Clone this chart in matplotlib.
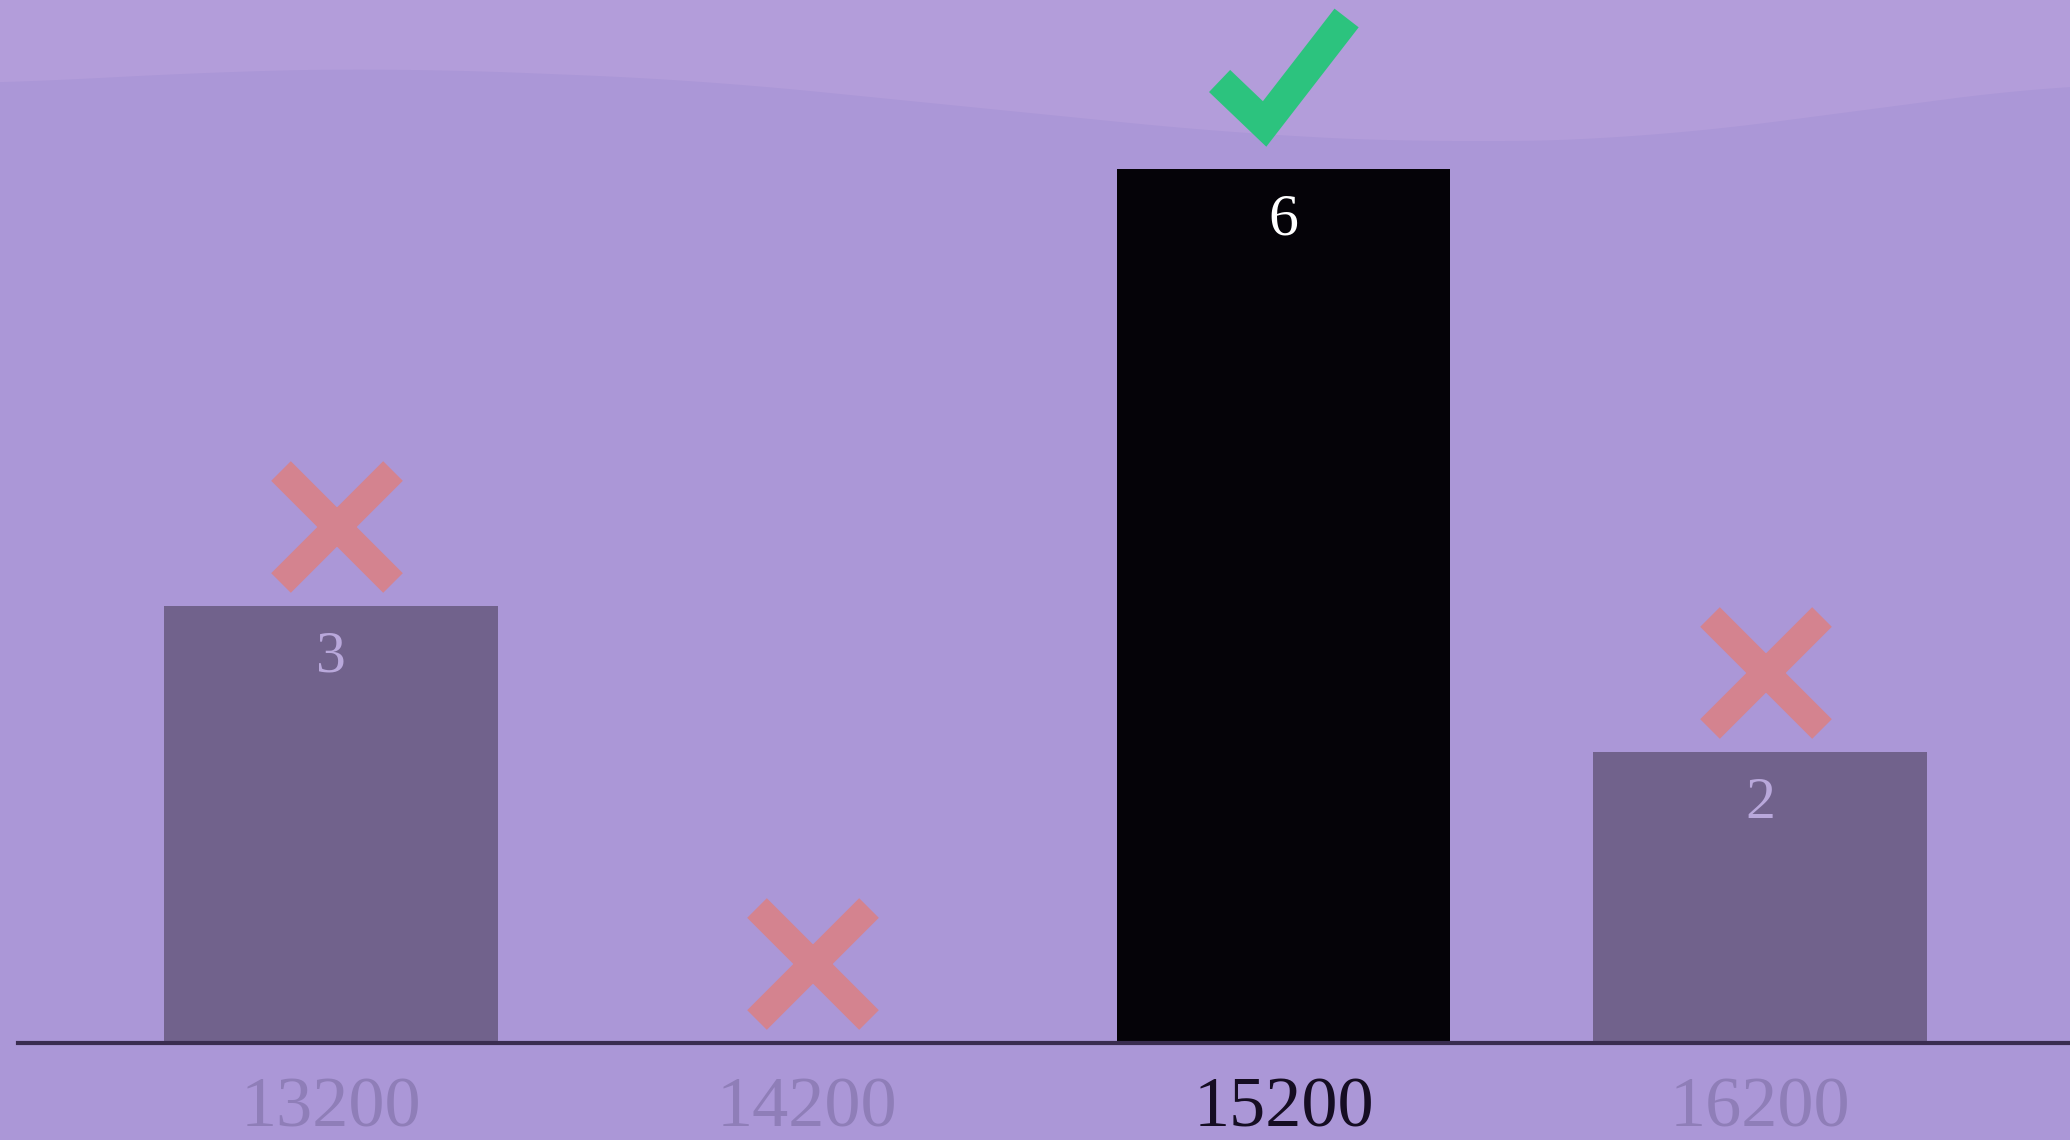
import numpy as np
import matplotlib
matplotlib.use("Agg")
import matplotlib.pyplot as plt
from matplotlib.markers import MarkerStyle
from matplotlib.transforms import ScaledTranslation, Affine2D

# ---- data ----
categories = ["13200", "14200", "15200", "16200"]
values = [3, 0, 6, 2]
correct = [False, False, True, False]

# ---- style ----
BG = "#AB97D7"
BAND = "#B39DDA"
BAR_MUTED = "#71628C"
BAR_RIGHT = "#050308"
X_COLOR = "#D4838F"
CHECK_COLOR = "#2CC37E"
BASE_COLOR = "#3A2C50"
TICK_MUTED = "#8F7EB8"
TICK_RIGHT = "#150D22"
VAL_MUTED = "#B9A8DB"
FONT = "Liberation Serif"

W, H = 2070, 1140
fig = plt.figure(figsize=(W / 100, H / 100), dpi=100)
fig.patch.set_facecolor(BG)

# background wave band
bg = fig.add_axes([0, 0, 1, 1], zorder=0)
bg.set_xlim(0, W)
bg.set_ylim(H, 0)
bg.axis("off")
cx = [0, 200, 400, 700, 1000, 1250, 1450, 1650, 1850, 2070]
cy = [84, 72, 68, 80, 110, 135, 143, 138, 112, 83]
xs = np.linspace(-200, W + 200, 1200)
ys = np.interp(xs, cx, cy)
k = 60
ys = np.convolve(np.pad(ys, k, mode="edge"), np.ones(2 * k + 1) / (2 * k + 1), mode="valid")
bg.fill_between(xs, 0, ys, color=BAND, lw=0)

# main axes
base_px = 1043
left_px = 18
ax = fig.add_axes([left_px / W, (H - base_px) / H, 1 - left_px / W, base_px / H], zorder=1)
ax.set_facecolor("none")
ax.set_xlim(-0.657, 3.651)
ax.set_ylim(0, 7.16)

x = np.arange(len(categories))
colors = [BAR_RIGHT if c else BAR_MUTED for c in correct]
ax.bar(x, values, width=0.70, color=colors, zorder=2)

for sp in ["top", "right", "left"]:
    ax.spines[sp].set_visible(False)
ax.spines["bottom"].set_color(BASE_COLOR)
ax.spines["bottom"].set_linewidth(3)
ax.spines["bottom"].set_zorder(3)
ax.set_yticks([])
ax.set_xticks(x)
ax.set_xticklabels(categories, fontfamily=FONT, fontsize=52)
ax.tick_params(axis="x", length=0, pad=24)
for lbl, c in zip(ax.get_xticklabels(), correct):
    lbl.set_color(TICK_RIGHT if c else TICK_MUTED)

# value labels inside bars
for xi, v, c in zip(x, values, correct):
    if v > 0:
        tr = ax.transData + ScaledTranslation(0, -0.52, fig.dpi_scale_trans)
        ax.text(xi, v, str(v), transform=tr, ha="center", va="center",
                fontfamily=FONT, fontsize=43,
                color="white" if c else VAL_MUTED, zorder=4)

# marks above bars (check drawn as a stroked polyline in pixel offsets from the bar top)
check_dx = [-64, -19, 63]
check_dy = [88, 45, 151]
x_marker = MarkerStyle("x", joinstyle="miter", capstyle="butt")
for xi, v, c in zip(x, values, correct):
    if c:
        tr = Affine2D() + ScaledTranslation(xi, v, ax.transData)
        ax.plot(check_dx, check_dy, color=CHECK_COLOR, lw=22,
                solid_joinstyle="miter", solid_capstyle="butt",
                transform=tr, zorder=5, clip_on=False)
    else:
        tr = ax.transData + ScaledTranslation(0.06, 0.79, fig.dpi_scale_trans)
        ax.plot([xi], [v], marker=x_marker, markersize=81, mec=X_COLOR, mew=20,
                transform=tr, zorder=5, clip_on=False)

fig.savefig("out.png", dpi=100, facecolor=BG)
